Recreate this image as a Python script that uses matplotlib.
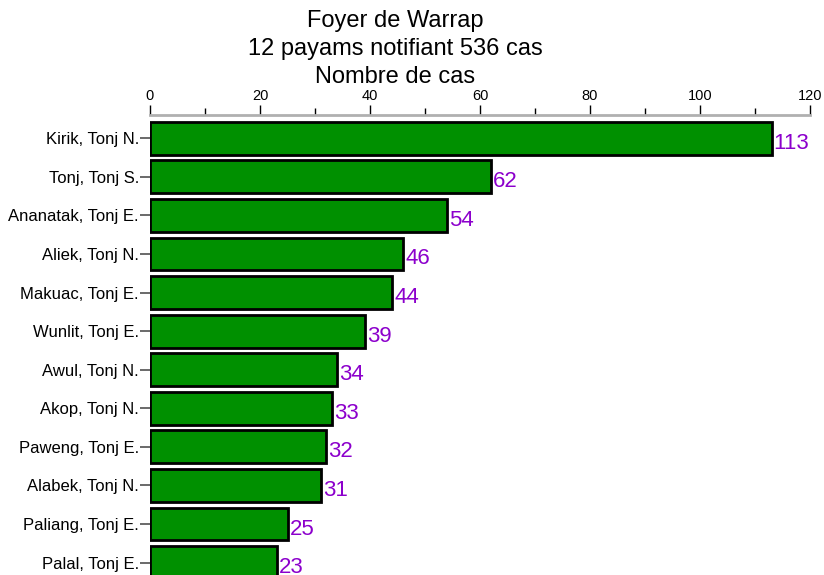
import matplotlib
matplotlib.use("Agg")
import matplotlib.pyplot as plt
from matplotlib.ticker import MultipleLocator

plt.rcParams['font.family'] = ['Liberation Sans', 'DejaVu Sans']

# Données
payams = ["Kirik, Tonj N.", "Tonj, Tonj S.", "Ananatak, Tonj E.", "Aliek, Tonj N.",
          "Makuac, Tonj E.", "Wunlit, Tonj E.", "Awul, Tonj N.", "Akop, Tonj N.",
          "Paweng, Tonj E.", "Alabek, Tonj N.", "Paliang, Tonj E.", "Palal, Tonj E."]
cas = [113, 62, 54, 46, 44, 39, 34, 33, 32, 31, 25, 23]
titre = ["Foyer de Warrap", "12 payams notifiant 536 cas", "Nombre de cas"]

fig = plt.figure(figsize=(8.24, 5.75), dpi=100)
ax = fig.add_axes([150 / 824, 0, 660 / 824, 0.8])

pos = list(range(len(payams)))
ax.barh(pos, cas, height=0.85, color="#009000", edgecolor="black", linewidth=2)

for y, v in zip(pos, cas):
    ax.text(v + 0.4, y + 0.13, str(v), color="#8c00cc", fontsize=16,
            ha="left", va="center")

ax.set_xlim(0, 120)
ax.set_ylim(11.32, -0.6)
ax.set_yticks(pos)
ax.set_yticklabels(payams, fontsize=12)

ax.xaxis.tick_top()
ax.xaxis.set_major_locator(MultipleLocator(20))
ax.xaxis.set_minor_locator(MultipleLocator(10))
ax.tick_params(axis="x", which="major", length=7, width=1, labelsize=10.5, pad=2)
ax.tick_params(axis="x", which="minor", length=5, width=1)
ax.tick_params(axis="y", length=7, width=1.2, color="#505050", pad=1)

for s in ["bottom", "left", "right"]:
    ax.spines[s].set_visible(False)
ax.spines["top"].set_color("#b0b0b0")
ax.spines["top"].set_linewidth(2)

for i, t in enumerate(titre):
    fig.text(395 / 824, 1 - (21 + 28 * i) / 575, t, fontsize=17,
             ha="center", va="center")

fig.savefig("out.png", dpi=100)
